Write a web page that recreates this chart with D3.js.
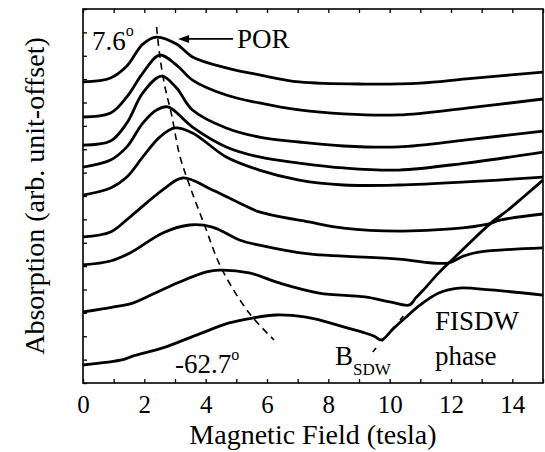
<!DOCTYPE html>
<html>
<head>
<meta charset="utf-8">
<script src="https://cdn.jsdelivr.net/npm/d3@7"></script>
<style>
body { margin: 0; background: #fff; }
svg text { font-family: "Liberation Serif", "Times New Roman", Tinos, "DejaVu Serif", "Noto Serif", Times, serif; fill: #000; }
</style>
</head>
<body>
<div id="chart"></div>
<script>
// absorption traces, [field (tesla), absorption (arb. units)], top (7.6 deg) to bottom (-62.7 deg)
const c1 = [[0,12.88],[0.9,13.05],[1.43,13.56],[1.95,14.5],[2.4,14.8],[3.05,14.5],[3.57,13.95],[4.67,13.48],[5.75,13.18],[7.05,12.88],[9.2,12.79],[11,12.83],[12.5,13.01],[15,13.3]];
const c2 = [[0,11.38],[0.9,11.55],[1.43,12.24],[1.95,13.26],[2.5,14.03],[3.05,13.6],[3.57,12.96],[4.67,12.32],[5.75,11.98],[7.05,11.68],[8.5,11.51],[10.3,11.47],[12.5,11.76],[15,12.15]];
const c3 = [[0,10.18],[0.9,10.35],[1.43,11.12],[1.95,12.41],[2.56,13.13],[3.05,12.62],[3.57,11.68],[4.67,10.91],[5.75,10.52],[7.05,10.31],[8.5,10.14],[10.3,10.1],[12.5,10.4],[15,10.78]];
const c4 = [[0,9.24],[0.9,9.54],[1.43,10.1],[1.95,11.12],[2.4,11.68],[2.77,11.81],[3.57,10.95],[4.67,10.1],[5.75,9.67],[7.05,9.41],[8.5,9.2],[10.3,9.11],[12.5,9.41],[15,9.88]];
const c5 = [[0,8.04],[0.9,8.34],[1.43,8.81],[1.95,9.67],[2.5,10.52],[3.0,10.91],[3.57,10.7],[4.67,9.67],[5.75,9.11],[7.05,8.68],[8.5,8.47],[10.3,8.47],[12.5,8.6],[15,8.81]];
const c6 = [[0,6.25],[0.9,6.46],[1.53,7.1],[2.6,8.26],[3.25,8.77],[4.22,8.26],[5.1,7.7],[5.75,7.32],[7.37,6.89],[8.5,6.63],[10.3,6.5],[12,6.59],[13.2,6.8],[13.6,6.97],[15,7.23]];
const c7 = [[0,5.05],[0.9,5.22],[1.53,5.56],[2.6,6.42],[3.47,6.76],[4.22,6.67],[5.1,6.12],[5.75,5.9],[7.37,5.52],[8.5,5.43],[10.3,5.3],[11.9,5.13],[12.4,5.43],[12.9,5.6],[15,5.78]];
const c8 = [[0,3.04],[0.97,3.25],[1.62,3.42],[2.08,3.68],[3.15,4.32],[4.03,4.75],[4.45,4.83],[5.42,4.71],[6.4,4.28],[7.7,3.85],[9.2,3.68],[10.0,3.47],[10.65,3.34],[10.85,3.64],[11.1,3.98],[11.6,4.71],[12.1,5.35],[12.47,5.82],[13.3,6.84],[13.86,7.4],[14.4,8.0],[15,8.68]];
const c9 = [[0,0.77],[1.3,1.0],[1.62,1.15],[2.6,1.5],[3.7,2.05],[4.77,2.57],[5.52,2.78],[6.3,2.91],[7.27,2.82],[7.7,2.7],[8.5,2.4],[9.2,2.14],[9.5,2.0],[9.74,1.84],[10.1,2.3],[10.5,2.78],[11.0,3.34],[11.6,3.85],[12.25,4.06],[13.3,3.98],[15,3.76]];
const curves = [c1, c2, c3, c4, c5, c6, c7, c8, c9];

// dashed guide lines
const porLine = [[2.4,15.23],[2.5,14.03],[2.66,12.75],[2.89,11.47],[3.15,9.75],[3.47,8.47],[3.96,6.76],[4.51,4.92],[5.42,2.99],[6.23,1.84]];
const sdwLine = [[9.45,1.33],[10.5,2.95]];

const xTicks = [0, 2, 4, 6, 8, 10, 12, 14];

let margin = { top: 9, right: 2, bottom: 69, left: 83 },
    width = 545 - margin.left - margin.right,
    height = 452 - margin.top - margin.bottom;

let svg = d3.select("#chart")
    .append("svg")
    .attr("width", width + margin.left + margin.right)
    .attr("height", height + margin.top + margin.bottom)
    .append("g")
    .attr("transform", `translate(${margin.left},${margin.top})`);

let x = d3.scaleLinear().domain([0, 15]).range([0, width]);
let y = d3.scaleLinear().domain([0, 16]).range([height, 0]);

let line = d3.line()
    .x(d => x(d[0]))
    .y(d => y(d[1]))
    .curve(d3.curveCatmullRom.alpha(0.5));

// axes, ticks pointing inward
let bottom = svg.append("g")
    .attr("transform", `translate(0,${height})`)
    .call(d3.axisBottom(x).tickValues(d3.range(0, 16)).tickSizeInner(-4).tickSizeOuter(0).tickPadding(12)
        .tickFormat(d => xTicks.includes(d) ? d : ""));
bottom.selectAll("text").style("font-size", "25px");

svg.append("g")
    .call(d3.axisTop(x).tickValues(d3.range(0, 16)).tickSizeInner(-4).tickSizeOuter(0).tickFormat(""));

svg.append("g")
    .call(d3.axisLeft(y).ticks(16).tickSizeInner(-4).tickSizeOuter(0).tickFormat(""));

svg.selectAll(".domain").remove();
svg.selectAll(".tick line").attr("stroke", "#000").attr("stroke-width", 1.3);

svg.append("rect")
    .attr("width", width)
    .attr("height", height)
    .attr("fill", "none")
    .attr("stroke", "#000")
    .attr("stroke-width", 1.6);

// dashed lines
svg.append("path")
    .attr("d", line(porLine))
    .attr("fill", "none")
    .attr("stroke", "#000")
    .attr("stroke-width", 1.6)
    .attr("stroke-dasharray", "7,5");

svg.append("path")
    .attr("d", d3.line().x(d => x(d[0])).y(d => y(d[1]))(sdwLine))
    .attr("fill", "none")
    .attr("stroke", "#000")
    .attr("stroke-width", 1.6)
    .attr("stroke-dasharray", "5,9");

// traces
svg.selectAll("path.trace")
    .data(curves)
    .enter().append("path")
    .attr("class", "trace")
    .attr("d", line)
    .attr("fill", "none")
    .attr("stroke", "#000")
    .attr("stroke-width", 2.8)
    .attr("stroke-linejoin", "round");

// annotations
let ann = svg.append("g").style("font-size", "27px");

let t76 = ann.append("text").attr("x", x(0.29)).attr("y", y(14.25));
t76.append("tspan").text("7.6");
t76.append("tspan").attr("dy", -14).style("font-size", "16px").text("o");

ann.append("text").attr("x", x(5.02)).attr("y", y(14.33)).text("POR");

// arrow to POR
let ay = y(14.72), tip = x(3.1), tail = x(4.89);
svg.append("line")
    .attr("x1", tip + 8).attr("x2", tail)
    .attr("y1", ay).attr("y2", ay)
    .attr("stroke", "#000").attr("stroke-width", 1.8);
svg.append("path")
    .attr("d", `M${tip},${ay} L${tip + 11},${ay - 4} L${tip + 11},${ay + 4} Z`)
    .attr("fill", "#000");

let t62 = ann.append("text").attr("x", x(3.0)).attr("y", y(0.43));
t62.append("tspan").text("-62.7");
t62.append("tspan").attr("dy", -13).style("font-size", "16px").text("o");

let tb = ann.append("text").attr("x", x(8.22)).attr("y", y(0.77));
tb.append("tspan").text("B");
tb.append("tspan").attr("dy", 10).style("font-size", "17px").text("SDW");

ann.append("text").attr("x", x(11.48)).attr("y", y(2.27)).text("FISDW");
ann.append("text").attr("x", x(11.48)).attr("y", y(0.77)).text("phase");

// axis titles
svg.append("text")
    .attr("x", width / 2)
    .attr("y", height + 61)
    .attr("text-anchor", "middle")
    .style("font-size", "28px")
    .text("Magnetic Field (tesla)");

svg.append("text")
    .attr("transform", `translate(${44 - margin.left},${height / 2}) rotate(-90)`)
    .attr("text-anchor", "middle")
    .style("font-size", "28px")
    .text("Absorption (arb. unit-offset)");
</script>
</body>
</html>
